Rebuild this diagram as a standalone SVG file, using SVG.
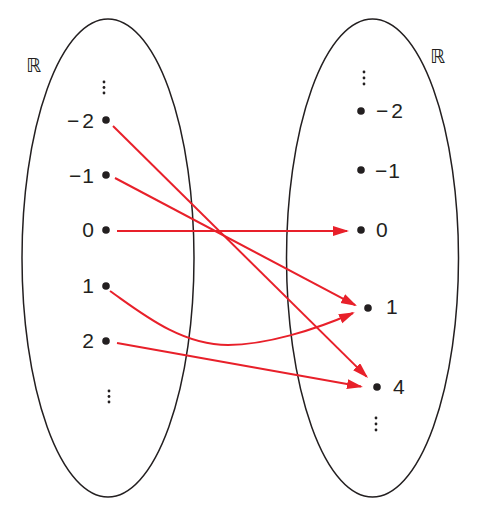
<svg xmlns="http://www.w3.org/2000/svg" width="489" height="508" viewBox="0 0 489 508">
<style>
.set{fill:none;stroke:#231f20;stroke-width:1.5}
.dot{fill:#231f20}
.vd{fill:#231f20}
.lbl{font-family:"Liberation Sans",Arial,sans-serif;font-size:21px;fill:#231f20}
.R{font-family:"DejaVu Sans",sans-serif;font-size:19px;fill:#231f20}
.arr{fill:none;stroke:#e8202a;stroke-width:2}
</style>
<defs>
<marker id="ah" markerUnits="userSpaceOnUse" markerWidth="17" markerHeight="11" refX="14" refY="5" orient="auto">
<path d="M0,0 L16,5 L0,10 z" fill="#e8202a"/>
</marker>
</defs>
<g id="domain">
<ellipse class="set" cx="108" cy="258" rx="86" ry="239"/>
<text class="R" x="26" y="72">ℝ</text>
<g class="vd"><circle cx="104" cy="82" r="1.4"/><circle cx="104" cy="87.5" r="1.4"/><circle cx="104" cy="93" r="1.4"/></g>
<g class="vd"><circle cx="109" cy="391" r="1.4"/><circle cx="109" cy="396.5" r="1.4"/><circle cx="109" cy="402" r="1.4"/></g>
</g>
<g id="codomain">
<ellipse class="set" cx="372.5" cy="258" rx="86" ry="239"/>
<text class="R" x="430" y="63">ℝ</text>
<g class="vd"><circle cx="364" cy="72" r="1.4"/><circle cx="364" cy="78" r="1.4"/><circle cx="364" cy="84" r="1.4"/></g>
<g class="vd"><circle cx="376" cy="418" r="1.4"/><circle cx="376" cy="424" r="1.4"/><circle cx="376" cy="430" r="1.4"/></g>
</g>
<g id="x-2"><circle class="dot" cx="106" cy="120" r="3.8"/><text class="lbl" x="94" y="128" text-anchor="end">−<tspan dx="3">2</tspan></text></g>
<g id="x-1"><circle class="dot" cx="106" cy="175" r="3.8"/><text class="lbl" x="94" y="183" text-anchor="end">−<tspan dx="1">1</tspan></text></g>
<g id="x0"><circle class="dot" cx="106" cy="230" r="3.8"/><text class="lbl" x="94" y="237" text-anchor="end">0</text></g>
<g id="x1"><circle class="dot" cx="106" cy="286" r="3.8"/><text class="lbl" x="94" y="293" text-anchor="end">1</text></g>
<g id="x2"><circle class="dot" cx="106" cy="341" r="3.8"/><text class="lbl" x="94" y="348" text-anchor="end">2</text></g>
<g id="y-2"><circle class="dot" cx="361" cy="111" r="3.8"/><text class="lbl" x="376" y="118">−<tspan dx="3">2</tspan></text></g>
<g id="y-1"><circle class="dot" cx="361" cy="170" r="3.8"/><text class="lbl" x="375" y="178">−<tspan dx="1">1</tspan></text></g>
<g id="y0"><circle class="dot" cx="361" cy="230" r="3.8"/><text class="lbl" x="376" y="237">0</text></g>
<g id="y1"><circle class="dot" cx="368" cy="308" r="3.8"/><text class="lbl" x="386" y="314">1</text></g>
<g id="y4"><circle class="dot" cx="377" cy="387" r="3.8"/><text class="lbl" x="393" y="394">4</text></g>
<g id="connectors">
<path class="arr" d="M113,126 L366.6,376.6" marker-end="url(#ah)"/>
<path class="arr" d="M115,178 L355.2,305.1" marker-end="url(#ah)"/>
<path class="arr" d="M117,231 L347,231" marker-end="url(#ah)"/>
<path class="arr" d="M110,291 C140,312 180,345 228,345 C265,345 315,330 353,313" marker-end="url(#ah)"/>
<path class="arr" d="M117,343 L361,386.6" marker-end="url(#ah)"/>
</g>
</svg>
